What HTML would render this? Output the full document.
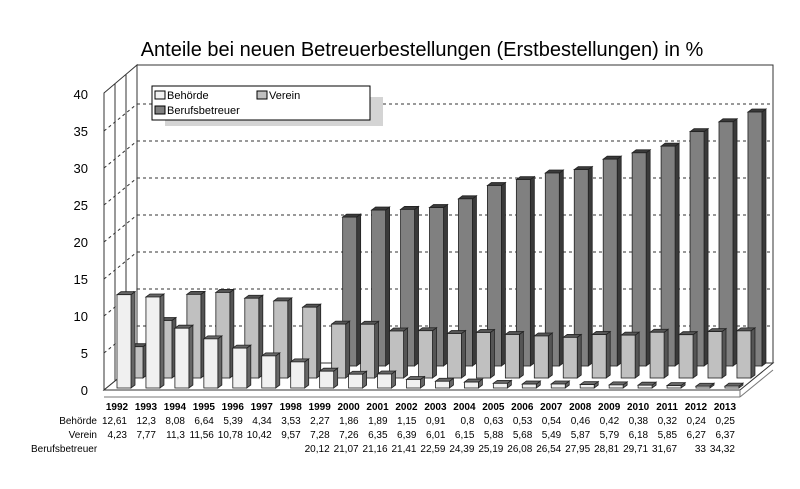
<!DOCTYPE html>
<html><head><meta charset="utf-8"><style>
body{margin:0;background:#fff}
svg{display:block;font-family:"Liberation Sans",Arial,sans-serif}
</style></head><body>
<svg id="c" width="800" height="489" viewBox="0 0 800 489">
<text x="422" y="56" font-size="20" text-anchor="middle" fill="#000">Anteile bei neuen Betreuerbestellungen (Erstbestellungen) in %</text>
<g id="walls">
<polygon points="137,65 773,65 773,363 137,363" fill="#fff" stroke="#333" stroke-width="1"/>
<polygon points="104,93 137,65 137,363 104,390" fill="#fff" stroke="#333" stroke-width="1"/>
<line x1="115" y1="84" x2="115" y2="381" stroke="#333"/>
<line x1="126" y1="74" x2="126" y2="372" stroke="#333"/>
<polygon points="104,390 137,363 773,363 740,390" fill="#fff" stroke="#333"/>
<line x1="104" y1="397" x2="740" y2="397" stroke="#777"/>
<line x1="740" y1="397" x2="773" y2="370" stroke="#777"/>
<line x1="740" y1="390" x2="740" y2="397" stroke="#777"/>
</g>
<g id="grid"></g>
<g id="yaxis"></g>
<g id="bars"></g>
<g id="table"></g>
<g>
<rect x="165" y="97" width="218" height="29" fill="#d4d4d4"/>
<rect x="152" y="86" width="218" height="34" fill="#fff" stroke="#000"/>
<rect x="155" y="91" width="10" height="8" fill="#f0f0f0" stroke="#000"/>
<text x="167" y="99" font-size="11">Behörde</text>
<rect x="257" y="91" width="10" height="8" fill="#c0c0c0" stroke="#000"/>
<text x="269" y="99" font-size="11">Verein</text>
<rect x="155" y="106" width="10" height="8" fill="#808080" stroke="#000"/>
<text x="167" y="114" font-size="11">Berufsbetreuer</text>
</g>
</svg>
<script>
const years=[1992,1993,1994,1995,1996,1997,1998,1999,2000,2001,2002,2003,2004,2005,2006,2007,2008,2009,2010,2011,2012,2013];
const behoerde=[12.61,12.3,8.08,6.64,5.39,4.34,3.53,2.27,1.86,1.89,1.15,0.91,0.8,0.63,0.53,0.54,0.46,0.42,0.38,0.32,0.24,0.25];
const verein=[4.23,7.77,11.3,11.56,10.78,10.42,9.57,7.28,7.26,6.35,6.39,6.01,6.15,5.88,5.68,5.49,5.87,5.79,6.18,5.85,6.27,6.37];
const beruf=[null,null,null,null,null,null,null,20.12,21.07,21.16,21.41,22.59,24.39,25.19,26.08,26.54,27.95,28.81,29.71,31.67,33,34.32];
const yTicks=[0,5,10,15,20,25,30,35,40];
const NS="http://www.w3.org/2000/svg";
const PX=7.4;
function xc(i){return 117+28.95*i;}
function yFront(v){return 390-v*PX;}
function yBack(v){return 363-v*PX;}
function fmt(v){return v==null?"":String(v).replace(".",",");}
function mk(tag,attrs,parent){const e=document.createElementNS(NS,tag);for(const k in attrs)e.setAttribute(k,attrs[k]);parent.appendChild(e);return e;}
const grid=document.getElementById('grid');
yTicks.forEach(v=>{
  if(v===0||v===40)return;
  const y=yBack(v);
  const l=mk('line',{x1:137,y1:y,x2:773,y2:y,stroke:'#333','stroke-dasharray':'3,3'},grid);
  
  
  const d=mk('line',{x1:104,y1:yFront(v),x2:137,y2:y,stroke:'#333','stroke-dasharray':'3,3'},grid);
  
  
});
const ya=document.getElementById('yaxis');
yTicks.forEach(v=>{
  const t=mk('text',{x:88,y:yFront(v)+5,'font-size':13,'text-anchor':'end',fill:'#000'},ya);
  t.textContent=v;
  
  
});
const bars=document.getElementById('bars');
function bar(cx,v,base,fill,side,name){
  if(v==null)return;
  const w=14,dx=4,dy=3;
  const x0=cx-w/2, top=base-v*PX;
  const g=mk('g',{},bars);
  
  
  mk('polygon',{points:`${x0+w},${top} ${x0+w+dx},${top-dy} ${x0+w+dx},${base-dy} ${x0+w},${base}`,fill:side,stroke:'#222','stroke-width':0.8},g);
  mk('polygon',{points:`${x0},${top} ${x0+dx},${top-dy} ${x0+w+dx},${top-dy} ${x0+w},${top}`,fill:side,stroke:'#222','stroke-width':0.8},g);
  mk('rect',{x:x0,y:top,width:w,height:Math.max(0.5,base-top),fill:fill,stroke:'#222','stroke-width':0.8},g);
}
years.forEach((y,i)=>bar(xc(i)+30,beruf[i],366,'#808080','#3a3a3a','bar-berufsbetreuer-'+y));
years.forEach((y,i)=>bar(xc(i)+19,verein[i],378,'#c0c0c0','#555','bar-verein-'+y));
years.forEach((y,i)=>bar(xc(i)+7,behoerde[i],388,'#f0f0f0','#666','bar-behoerde-'+y));
const tb=document.getElementById('table');
[["Behörde",424],["Verein",438]].forEach(r=>{
  const t=mk('text',{x:97,y:r[1],'font-size':10,'text-anchor':'end'},tb);
  t.textContent=r[0];
  
  
});
const bl=mk('text',{x:31,y:452,'font-size':10},tb);
bl.textContent="Berufsbetreuer";


years.forEach((y,i)=>{
  const t=mk('text',{x:xc(i),y:410,'font-size':10,'font-weight':'bold','text-anchor':'middle'},tb);
  t.textContent=y;
  
  
  [[behoerde,424],[verein,438],[beruf,452]].forEach((s,k)=>{
    const c=mk('text',{x:xc(i)+10,y:s[1],'font-size':10,'text-anchor':'end'},tb);
    c.textContent=fmt(s[0][i]);
    
    
  });
});
</script>
</body></html>
